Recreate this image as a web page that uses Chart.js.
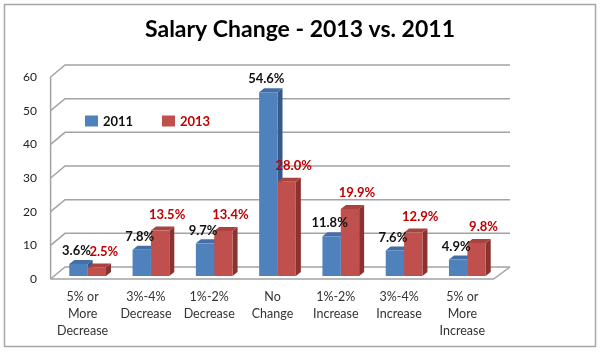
<!DOCTYPE html>
<html>
<head>
<meta charset="utf-8">
<script src="https://cdn.jsdelivr.net/npm/chart.js@4.4.0/dist/chart.umd.min.js"></script>
<style>
  html, body { margin: 0; padding: 0; background: #fff; }
  #wrap { width: 600px; height: 353px; }
</style>
</head>
<body>
<div id="wrap"><canvas id="chart" width="600" height="353"></canvas></div>
<script>
// chart values
const categories = [
  ["5% or", "More", "Decrease"],
  ["3%-4%", "Decrease"],
  ["1%-2%", "Decrease"],
  ["No", "Change"],
  ["1%-2%", "Increase"],
  ["3%-4%", "Increase"],
  ["5% or", "More", "Increase"]
];
const years = ["2011", "2013"];
const values2011 = [3.6, 7.8, 9.7, 54.6, 11.8, 7.6, 4.9];
const values2013 = [2.5, 13.5, 13.4, 28.0, 19.9, 12.9, 9.8];
const yTicks = [0, 10, 20, 30, 40, 50, 60];

const FONT = "Lato, 'Open Sans', sans-serif";

// colours for front / side / top faces of the bars
const faces = [
  { front: "#4f81bd", side: "#34598a", top: "#436fa6", label: "#111111" },
  { front: "#c0504d", side: "#8a3230", top: "#a94340", label: "#c00000" }
];

// depth of the 3D box: front plane and back wall offsets from the bar plane
const FRONT_DX = -5.4, FRONT_DY = 3;
const BACK_DX = 9, BACK_DY = -9;
const BAR_DX = 5, BAR_DY = 4;

const box3d = {
  id: "box3d",
  beforeDraw(chart) {
    const ctx = chart.ctx;
    ctx.save();
    ctx.fillStyle = "#fff";
    ctx.fillRect(0, 0, chart.width, chart.height);
    ctx.strokeStyle = "#a6a6a6";
    ctx.lineWidth = 1.5;
    ctx.strokeRect(4.5, 4.5, 591, 342);
    ctx.restore();
  },
  beforeDatasetsDraw(chart) {
    const ctx = chart.ctx;
    const area = chart.chartArea;
    const y = chart.scales.y;
    const fx = area.left + FRONT_DX;
    const bx = area.left + BACK_DX;
    const rightBack = area.right + BACK_DX + 2;
    const rightFront = area.right + FRONT_DX;
    ctx.save();
    ctx.strokeStyle = "#a3a3a3";
    ctx.lineWidth = 1.5;
    // back wall gridlines with slanted side-wall part
    y.ticks.forEach(t => {
      const py = y.getPixelForValue(t.value);
      ctx.beginPath();
      ctx.moveTo(fx, py + FRONT_DY);
      ctx.lineTo(bx, py + BACK_DY);
      ctx.lineTo(rightBack, py + BACK_DY);
      ctx.stroke();
    });
    // floor front edge and right edge
    const p0 = y.getPixelForValue(0);
    ctx.beginPath();
    ctx.moveTo(fx, p0 + FRONT_DY);
    ctx.lineTo(rightFront, p0 + FRONT_DY);
    ctx.lineTo(rightBack, p0 + BACK_DY);
    ctx.stroke();
    // front vertical axis line
    ctx.beginPath();
    ctx.moveTo(fx, p0 + FRONT_DY);
    ctx.lineTo(fx, y.getPixelForValue(60) + FRONT_DY);
    ctx.stroke();

    // side and top faces of each bar (fronts are drawn by Chart.js on top)
    chart.data.datasets.forEach((ds, di) => {
      const meta = chart.getDatasetMeta(di);
      meta.data.forEach(el => {
        const p = el.getProps(["x", "y", "base", "width"], true);
        const l = p.x - p.width / 2, r = p.x + p.width / 2;
        ctx.fillStyle = faces[di].side;
        ctx.beginPath();
        ctx.moveTo(r, p.base);
        ctx.lineTo(r, p.y);
        ctx.lineTo(r + BAR_DX, p.y - BAR_DY);
        ctx.lineTo(r + BAR_DX, p.base - BAR_DY);
        ctx.closePath();
        ctx.fill();
        ctx.fillStyle = faces[di].top;
        ctx.beginPath();
        ctx.moveTo(l, p.y);
        ctx.lineTo(r, p.y);
        ctx.lineTo(r + BAR_DX, p.y - BAR_DY);
        ctx.lineTo(l + BAR_DX, p.y - BAR_DY);
        ctx.closePath();
        ctx.fill();
      });
    });
    ctx.restore();
  },
  afterDatasetsDraw(chart) {
    const ctx = chart.ctx;
    ctx.save();
    ctx.textAlign = "center";
    ctx.textBaseline = "middle";
    ctx.font = "bold 13px " + FONT;
    chart.data.datasets.forEach((ds, di) => {
      const meta = chart.getDatasetMeta(di);
      ctx.fillStyle = faces[di].label;
      meta.data.forEach((el, i) => {
        const dx = di === 0 ? -2 : 7;
        const dy = di === 0 ? -13 : -16;
        ctx.fillText(ds.data[i].toFixed(1) + "%", el.x + dx, el.y + dy);
      });
    });
    // legend inside the plot
    const lx = [85, 162];
    ctx.font = "bold 13px " + FONT;
    ctx.textAlign = "left";
    chart.data.datasets.forEach((ds, di) => {
      ctx.fillStyle = faces[di].front;
      ctx.fillRect(lx[di], 115.5, 13, 11);
      ctx.fillStyle = di === 0 ? "#111" : "#c00000";
      ctx.fillText(ds.label, lx[di] + 18, 121.5);
    });
    ctx.restore();
  }
};

new Chart(document.getElementById("chart"), {
  type: "bar",
  data: {
    labels: categories,
    datasets: [
      { label: years[0], data: values2011, backgroundColor: faces[0].front },
      { label: years[1], data: values2013, backgroundColor: faces[1].front }
    ]
  },
  options: {
    responsive: false,
    animation: false,
    events: [],
    categoryPercentage: 0.58,
    barPercentage: 1.0,
    layout: { padding: 0 },
    plugins: {
      legend: { display: false },
      tooltip: { enabled: false },
      title: {
        display: true,
        text: "Salary Change - 2013 vs. 2011",
        color: "#000",
        font: { family: FONT, size: 23, weight: "bold", lineHeight: 1.2 },
        padding: { top: 16, bottom: 30.4 }
      }
    },
    scales: {
      x: {
        grid: { display: false, drawTicks: false },
        border: { display: false },
        ticks: {
          color: "#333",
          padding: 12,
          labelOffset: -5,
          maxRotation: 0,
          autoSkip: false,
          font: { family: FONT, size: 12.5, lineHeight: 1.36 }
        },
        afterFit(scale) { scale.height = 77; }
      },
      y: {
        min: 0,
        max: 60,
        grid: { display: false, drawTicks: false },
        border: { display: false },
        afterBuildTicks(scale) { scale.ticks = yTicks.map(v => ({ value: v })); },
        ticks: {
          color: "#222",
          padding: 19,
          labelOffset: 3,
          font: { family: FONT, size: 12 }
        },
        afterFit(scale) { scale.width = 56; }
      },
      // empty right-hand axis that keeps the blank margin to the right of the plot
      spacer: {
        type: "linear",
        position: "right",
        display: true,
        grid: { display: false, drawTicks: false },
        border: { display: false },
        ticks: { display: false },
        afterFit(scale) { scale.width = 101; }
      }
    }
  },
  plugins: [box3d]
});
</script>
</body>
</html>
